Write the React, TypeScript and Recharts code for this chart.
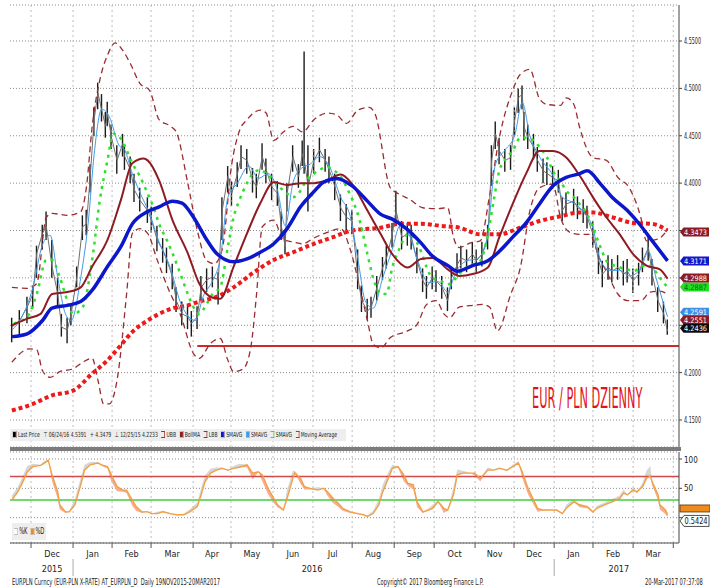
import React from "react";
import {
  ComposedChart,
  Line,
  Bar,
  Area,
  XAxis,
  YAxis,
  CartesianGrid,
  ReferenceLine,
  ReferenceDot,
} from "recharts";

const FONT = "'Liberation Sans Narrow', 'DejaVu Sans Condensed', 'Arial Narrow', 'Liberation Sans', sans-serif";

// x = session number counted from 19 Nov 2015
const monthStarts = [11, 33, 53.4, 73.8, 95.8, 115.6, 137.6, 158.5, 179, 201, 221.9, 243.3, 263.7, 284.7, 305, 326, 347];
const monthMids = [22, 43.2, 63.6, 84.8, 105.7, 126.6, 148, 168.8, 190, 211.5, 232.6, 253.5, 274.2, 294.8, 315.5, 336.5];
const monthNames = ["Dec", "Jan", "Feb", "Mar", "Apr", "May", "Jun", "Jul", "Aug", "Sep", "Oct", "Nov", "Dec", "Jan", "Feb", "Mar"];
const yearStarts = [33, 284.7];
const yearLabelT = [22, 158, 318.5];
const yearNames = ["2015", "2016", "2017"];

const priceTicks = [4.15, 4.2, 4.25, 4.3, 4.35, 4.4, 4.45, 4.5, 4.55];
const hiddenPriceLabels = ["4.25", "4.30", "4.35"];

// EURPLN daily bars (sampled)
const priceT = [
  1, 5, 9, 12, 14, 17, 19, 22, 25, 27,
  30, 32, 35, 38, 40, 42, 44, 46, 48, 50,
  51, 53, 56, 59, 60, 63, 65, 68, 72, 74,
  77, 80, 82, 85, 87, 90, 93, 95, 98, 100,
  103, 106, 109, 111, 114, 116, 119, 121, 124, 127,
  129, 132, 134, 137, 140, 142, 144, 145, 148, 151,
  153, 154, 156, 159, 162, 165, 167, 170, 173, 176,
  179, 182, 184, 187, 189, 192, 195, 197, 200, 202,
  205, 208, 210, 213, 216, 218, 221, 223, 226, 229,
  231, 234, 236, 239, 242, 244, 247, 250, 252, 254,
  256, 259, 262, 264, 266, 268, 269, 271, 274, 276,
  279, 281, 284, 287, 289, 291, 295, 297, 300, 302,
  305, 308, 310, 313, 315, 318, 321, 323, 326, 329,
  331, 334, 336, 339, 342, 344,
];
const priceClose = [
  4.248, 4.255, 4.269, 4.283, 4.326, 4.347, 4.354, 4.312, 4.283, 4.248,
  4.245, 4.262, 4.301, 4.354, 4.357, 4.407, 4.467, 4.495, 4.477, 4.46,
  4.474, 4.449, 4.424, 4.442, 4.428, 4.414, 4.393, 4.382, 4.371, 4.361,
  4.34, 4.329, 4.319, 4.301, 4.276, 4.262, 4.259, 4.252, 4.259, 4.29,
  4.298, 4.301, 4.298, 4.371, 4.407, 4.389, 4.41, 4.428, 4.424, 4.403,
  4.396, 4.428, 4.414, 4.396, 4.389, 4.354, 4.333, 4.389, 4.428, 4.407,
  4.431, 4.424, 4.396, 4.424, 4.435, 4.424, 4.414, 4.396, 4.374, 4.364,
  4.36, 4.3, 4.276, 4.265, 4.269, 4.29, 4.311, 4.321, 4.346, 4.371,
  4.343, 4.346, 4.343, 4.318, 4.297, 4.29, 4.3, 4.297, 4.29, 4.276,
  4.3, 4.314, 4.321, 4.318, 4.325, 4.318, 4.325, 4.343, 4.424, 4.452,
  4.434, 4.424, 4.427, 4.466, 4.49, 4.494, 4.459, 4.448, 4.438, 4.424,
  4.413, 4.41, 4.406, 4.402, 4.371, 4.378, 4.381, 4.374, 4.371, 4.364,
  4.346, 4.318, 4.304, 4.311, 4.307, 4.311, 4.304, 4.307, 4.297, 4.304,
  4.318, 4.332, 4.304, 4.276, 4.262, 4.2436,
];
const priceHigh = [
  4.258, 4.266, 4.28, 4.292, 4.334, 4.356, 4.37, 4.34, 4.3, 4.262,
  4.258, 4.272, 4.312, 4.366, 4.372, 4.42, 4.48, 4.506, 4.494, 4.475,
  4.486, 4.462, 4.44, 4.452, 4.44, 4.428, 4.41, 4.395, 4.385, 4.375,
  4.355, 4.342, 4.332, 4.315, 4.29, 4.275, 4.272, 4.265, 4.27, 4.302,
  4.31, 4.312, 4.306, 4.385, 4.418, 4.402, 4.422, 4.44, 4.436, 4.416,
  4.41, 4.442, 4.426, 4.41, 4.402, 4.37, 4.35, 4.4, 4.44, 4.42,
  4.445, 4.539, 4.44, 4.436, 4.448, 4.436, 4.428, 4.41, 4.388, 4.378,
  4.372, 4.33, 4.292, 4.278, 4.28, 4.302, 4.322, 4.334, 4.358, 4.392,
  4.36, 4.358, 4.356, 4.332, 4.31, 4.302, 4.312, 4.308, 4.302, 4.29,
  4.312, 4.326, 4.334, 4.33, 4.338, 4.33, 4.338, 4.356, 4.44, 4.465,
  4.448, 4.436, 4.44, 4.48, 4.5, 4.503, 4.475, 4.462, 4.452, 4.438,
  4.426, 4.422, 4.418, 4.414, 4.385, 4.39, 4.394, 4.386, 4.383, 4.376,
  4.36, 4.332, 4.318, 4.324, 4.32, 4.324, 4.318, 4.32, 4.31, 4.316,
  4.332, 4.346, 4.32, 4.29, 4.275, 4.256,
];
const priceLow = [
  4.232, 4.24, 4.252, 4.268, 4.3, 4.33, 4.34, 4.3, 4.27, 4.238,
  4.231, 4.25, 4.29, 4.34, 4.345, 4.39, 4.45, 4.478, 4.465, 4.448,
  4.46, 4.436, 4.41, 4.428, 4.414, 4.4, 4.38, 4.37, 4.358, 4.348,
  4.328, 4.316, 4.305, 4.288, 4.264, 4.25, 4.246, 4.238, 4.246, 4.276,
  4.285, 4.29, 4.272, 4.34, 4.39, 4.376, 4.396, 4.415, 4.41, 4.39,
  4.384, 4.414, 4.4, 4.382, 4.376, 4.34, 4.325, 4.37, 4.412, 4.395,
  4.418, 4.41, 4.37, 4.41, 4.422, 4.412, 4.4, 4.382, 4.36, 4.35,
  4.346, 4.288, 4.264, 4.256, 4.258, 4.276, 4.298, 4.31, 4.332, 4.356,
  4.33, 4.334, 4.33, 4.305, 4.285, 4.278, 4.288, 4.285, 4.278, 4.265,
  4.288, 4.302, 4.31, 4.306, 4.312, 4.306, 4.312, 4.33, 4.4, 4.436,
  4.42, 4.412, 4.414, 4.45, 4.474, 4.478, 4.445, 4.436, 4.425, 4.412,
  4.4, 4.398, 4.394, 4.39, 4.36, 4.366, 4.368, 4.362, 4.358, 4.352,
  4.332, 4.304, 4.29, 4.298, 4.295, 4.298, 4.292, 4.295, 4.284, 4.292,
  4.306, 4.318, 4.292, 4.264, 4.252, 4.24,
];

// SMAVG (blue, thick)
const smaT = [1, 9, 17, 22, 30, 37, 43, 51, 58, 64, 72, 78, 85, 90, 96, 103, 108, 117, 124, 131, 138, 145, 152, 159, 164, 171, 179, 187, 194, 200, 208, 215, 221, 229, 234, 242, 250, 256, 263, 270, 277, 284, 291, 298, 302, 309, 315, 323, 330, 336, 344];
const smaV = [4.238, 4.241, 4.255, 4.268, 4.271, 4.275, 4.287, 4.312, 4.333, 4.357, 4.37, 4.375, 4.381, 4.379, 4.364, 4.34, 4.326, 4.317, 4.32, 4.327, 4.336, 4.352, 4.375, 4.391, 4.401, 4.405, 4.397, 4.381, 4.367, 4.362, 4.351, 4.337, 4.323, 4.313, 4.307, 4.313, 4.318, 4.328, 4.343, 4.358, 4.378, 4.397, 4.406, 4.41, 4.413, 4.399, 4.385, 4.371, 4.355, 4.339, 4.318];

// BollMA (dark red)
const bmaT = [1, 9, 16, 22, 30, 37, 43, 51, 58, 64, 70, 72, 78, 85, 93, 99, 106, 110, 117, 124, 131, 138, 145, 152, 159, 166, 173, 179, 187, 194, 200, 208, 215, 221, 229, 235, 242, 250, 256, 263, 270, 277, 284, 291, 298, 305, 312, 319, 326, 333, 340, 344];
const bmaV = [4.25, 4.257, 4.262, 4.283, 4.285, 4.29, 4.312, 4.34, 4.382, 4.421, 4.426, 4.424, 4.403, 4.361, 4.326, 4.294, 4.279, 4.278, 4.312, 4.347, 4.379, 4.401, 4.398, 4.4, 4.4, 4.403, 4.409, 4.399, 4.371, 4.346, 4.325, 4.311, 4.32, 4.321, 4.309, 4.302, 4.304, 4.311, 4.343, 4.378, 4.41, 4.434, 4.434, 4.427, 4.408, 4.385, 4.364, 4.346, 4.325, 4.313, 4.309, 4.299];

// Moving Average (red dotted)
const maT = [1, 12, 22, 33, 43, 51, 58, 64, 72, 78, 85, 93, 99, 108, 117, 127, 138, 148, 159, 169, 179, 194, 204, 215, 225, 235, 246, 256, 267, 277, 288, 298, 305, 315, 326, 336, 344];
const maV = [4.16, 4.167, 4.176, 4.181, 4.199, 4.213, 4.229, 4.243, 4.255, 4.262, 4.268, 4.271, 4.275, 4.28, 4.29, 4.305, 4.319, 4.327, 4.336, 4.343, 4.35, 4.353, 4.357, 4.357, 4.355, 4.353, 4.346, 4.346, 4.353, 4.36, 4.365, 4.369, 4.369, 4.364, 4.358, 4.357, 4.35];

// SMAVG (green dotted)
const grT = [2, 9, 14, 19, 22, 26, 30, 33, 38, 43, 47, 51, 54, 58, 61, 64, 68, 72, 75, 78, 82, 85, 89, 93, 96, 99, 103, 106, 110, 114, 117, 120, 124, 127, 131, 134, 138, 141, 145, 148, 152, 155, 159, 162, 166, 169, 173, 176, 183, 187, 190, 194, 197, 200, 204, 208, 211, 215, 218, 221, 225, 229, 232, 235, 239, 242, 246, 250, 253, 256, 260, 263, 267, 270, 274, 277, 281, 284, 288, 291, 295, 298, 302, 305, 309, 312, 315, 319, 323, 326, 330, 333, 336, 340, 344];
const grV = [4.252, 4.259, 4.283, 4.319, 4.319, 4.301, 4.276, 4.262, 4.269, 4.319, 4.382, 4.424, 4.452, 4.447, 4.435, 4.421, 4.407, 4.389, 4.375, 4.357, 4.34, 4.326, 4.305, 4.283, 4.269, 4.262, 4.273, 4.283, 4.29, 4.333, 4.364, 4.382, 4.4, 4.41, 4.414, 4.41, 4.403, 4.396, 4.389, 4.385, 4.392, 4.403, 4.41, 4.414, 4.417, 4.414, 4.407, 4.396, 4.36, 4.325, 4.3, 4.283, 4.283, 4.311, 4.332, 4.346, 4.343, 4.328, 4.311, 4.3, 4.297, 4.293, 4.297, 4.304, 4.311, 4.314, 4.318, 4.346, 4.381, 4.413, 4.427, 4.434, 4.448, 4.448, 4.445, 4.438, 4.427, 4.413, 4.402, 4.392, 4.385, 4.378, 4.367, 4.353, 4.332, 4.318, 4.314, 4.311, 4.309, 4.307, 4.311, 4.314, 4.311, 4.3, 4.29];

// SMAVG (light blue, thin)
const lbT = [1, 6, 12, 17, 21, 25, 29, 32, 37, 41, 44, 48, 52, 57, 60, 64, 68, 73, 78, 84, 89, 93, 97, 101, 106, 110, 114, 119, 125, 130, 135, 140, 144, 148, 152, 157, 162, 167, 173, 178, 182, 186, 190, 195, 200, 204, 209, 213, 219, 224, 229, 233, 239, 244, 249, 254, 259, 264, 268, 272, 277, 284, 289, 294, 299, 305, 309, 314, 319, 324, 330, 334, 338, 342, 344];
const lbV = [4.245, 4.258, 4.29, 4.335, 4.345, 4.3, 4.262, 4.255, 4.3, 4.36, 4.43, 4.478, 4.47, 4.44, 4.435, 4.41, 4.39, 4.368, 4.338, 4.31, 4.275, 4.26, 4.255, 4.28, 4.297, 4.32, 4.385, 4.4, 4.418, 4.405, 4.41, 4.392, 4.355, 4.4, 4.415, 4.42, 4.428, 4.418, 4.385, 4.365, 4.32, 4.275, 4.268, 4.3, 4.33, 4.355, 4.345, 4.32, 4.295, 4.296, 4.285, 4.305, 4.318, 4.32, 4.335, 4.42, 4.435, 4.45, 4.485, 4.45, 4.428, 4.408, 4.385, 4.38, 4.372, 4.352, 4.318, 4.308, 4.308, 4.302, 4.31, 4.328, 4.3, 4.272, 4.259];

// Upper Bollinger band
const ubT = [1, 9, 14, 19, 22, 30, 37, 40, 43, 47, 51, 55, 59, 63, 68, 73, 78, 84, 87, 93, 98, 103, 107, 111, 116, 120, 124, 131, 134, 138, 143, 148, 153, 159, 166, 171, 176, 182, 188, 191, 199, 204, 209, 216, 223, 229, 232, 235, 241, 246, 251, 256, 263, 267, 272, 277, 281, 288, 291, 295, 298, 305, 312, 318, 324, 330, 333, 339, 344];
const ubV = [4.29, 4.289, 4.294, 4.364, 4.368, 4.366, 4.37, 4.396, 4.46, 4.509, 4.535, 4.548, 4.54, 4.526, 4.505, 4.498, 4.467, 4.46, 4.454, 4.4, 4.35, 4.318, 4.315, 4.33, 4.42, 4.455, 4.467, 4.477, 4.474, 4.445, 4.454, 4.46, 4.454, 4.467, 4.474, 4.472, 4.463, 4.477, 4.48, 4.473, 4.395, 4.388, 4.383, 4.374, 4.373, 4.374, 4.343, 4.332, 4.337, 4.339, 4.388, 4.448, 4.498, 4.515, 4.52, 4.489, 4.483, 4.482, 4.49, 4.483, 4.459, 4.427, 4.424, 4.406, 4.395, 4.364, 4.339, 4.341, 4.351];

// Lower Bollinger band
const lbbT = [1, 10, 14, 17, 21, 26, 33, 38, 43, 46, 49, 52, 56, 61, 64, 68, 72, 77, 84, 89, 96, 99, 105, 110, 114, 117, 122, 126, 129, 132, 138, 143, 148, 153, 159, 166, 173, 178, 183, 187, 190, 194, 199, 208, 213, 218, 223, 227, 230, 235, 242, 247, 251, 255, 262, 267, 272, 277, 284, 288, 293, 298, 303, 309, 312, 318, 323, 330, 335, 340, 344];
const lbbV = [4.211, 4.225, 4.224, 4.202, 4.195, 4.201, 4.204, 4.211, 4.215, 4.192, 4.167, 4.167, 4.192, 4.283, 4.347, 4.352, 4.347, 4.319, 4.283, 4.262, 4.22, 4.215, 4.231, 4.236, 4.213, 4.201, 4.204, 4.227, 4.283, 4.354, 4.361, 4.34, 4.338, 4.336, 4.342, 4.348, 4.352, 4.33, 4.29, 4.255, 4.23, 4.226, 4.237, 4.244, 4.251, 4.272, 4.276, 4.262, 4.258, 4.269, 4.271, 4.272, 4.269, 4.244, 4.283, 4.311, 4.371, 4.395, 4.399, 4.364, 4.348, 4.346, 4.346, 4.318, 4.307, 4.283, 4.276, 4.276, 4.285, 4.286, 4.283];

const supportLevel = 4.228;
const supportStart = 98;

// value tags at the right edge (drawn level, text, colours)
const tagLevels = [4.2904, 4.3484, 4.3178, 4.2999, 4.2638, 4.2555, 4.2468];
const tagTexts = ["4.2887", "4.3473", "4.3171", "4.2988", "4.2591", "4.2551", "4.2436"];
const tagFills = ["#22e01e", "#8e1b22", "#1416cc", "#8e1b22", "#3b8fe6", "#8e1b22", "#0c0c0c"];
const tagInk = ["#063", "#fff", "#fff", "#fff", "#fff", "#fff", "#fff"];

// Stochastic panel
const stT = [1, 4, 6, 9, 12, 16, 18, 20, 22, 25, 26, 29, 31, 34, 37, 39, 42, 46, 48, 51, 53, 56, 59, 61, 64, 66, 69, 72, 74, 77, 80, 84, 87, 91, 94, 98, 100, 102, 105, 108, 111, 114, 117, 120, 124, 127, 130, 132, 135, 138, 140, 143, 145, 148, 149, 152, 154, 157, 161, 164, 166, 169, 172, 174, 178, 182, 185, 187, 190, 193, 195, 198, 200, 203, 206, 208, 211, 213, 216, 219, 221, 224, 227, 229, 232, 234, 237, 241, 243, 246, 250, 253, 256, 260, 263, 266, 268, 271, 274, 276, 279, 283, 286, 289, 291, 295, 298, 302, 305, 307, 311, 315, 319, 321, 323, 326, 328, 331, 333, 335, 336, 339, 340, 343, 344];
const stD = [30, 44, 56, 78, 87, 89, 93, 98, 73, 44, 22, 10, 10, 22, 56, 81, 90, 93, 90, 87, 73, 53, 47, 47, 30, 19, 10, 10, 7, 7, 10, 7, 5, 5, 10, 19, 39, 61, 76, 81, 84, 81, 84, 86, 90, 76, 78, 73, 50, 33, 22, 13, 33, 67, 76, 67, 53, 50, 47, 50, 44, 33, 24, 16, 10, 7, 5, 2, 7, 22, 44, 67, 84, 87, 73, 59, 56, 27, 10, 13, 16, 27, 16, 13, 39, 73, 76, 76, 76, 67, 81, 81, 84, 81, 87, 93, 78, 50, 30, 16, 13, 13, 13, 7, 16, 27, 22, 19, 10, 16, 22, 27, 33, 42, 39, 47, 44, 53, 67, 71, 61, 39, 22, 13, 5];
const stK = [38, 52, 66, 88, 92, 90, 97, 98, 62, 32, 14, 8, 12, 32, 68, 90, 95, 95, 88, 84, 62, 45, 44, 42, 20, 12, 8, 12, 6, 10, 12, 6, 5, 7, 14, 26, 50, 72, 84, 85, 86, 80, 88, 92, 86, 65, 80, 62, 40, 25, 18, 12, 48, 80, 80, 58, 48, 48, 52, 50, 38, 25, 18, 12, 8, 6, 4, 4, 12, 32, 56, 78, 90, 85, 62, 55, 48, 18, 8, 16, 22, 30, 8, 12, 52, 82, 80, 76, 72, 62, 86, 82, 86, 80, 90, 96, 68, 40, 22, 10, 12, 14, 12, 6, 22, 32, 18, 16, 8, 20, 26, 32, 38, 48, 38, 52, 42, 60, 80, 88, 55, 30, 14, 6, 0.5];
const stTicks = [0, 50, 100];

const zip = (ts: number[], vs: number[]) => ts.map((t, i) => ({ t, v: vs[i] }));

const priceRows = priceT.map((t, i) => ({
  t,
  close: priceClose[i],
  hl: [priceLow[i], priceHigh[i]],
}));

const stRows = stT.map((t, i) => ({
  t,
  d: stD[i],
  up: [stD[i], Math.max(stD[i], stK[i])],
  dn: [Math.min(stD[i], stK[i]), stD[i]],
}));

const PriceTick = (p: any) => {
  const label = Number(p.payload.value).toFixed(2);
  if (hiddenPriceLabels.includes(label)) return <g />;
  return (
    <text x={p.x} y={p.y + 3} fontSize={8} fill="#222" fontFamily={FONT} textLength={17} lengthAdjust="spacingAndGlyphs">
      {Number(p.payload.value).toFixed(4)}
    </text>
  );
};

const StochTick = (p: any) => {
  if (p.payload.value === 0) return <g />;
  return (
    <text x={p.x} y={p.y + 3} fontSize={8} fill="#222" fontFamily={FONT}>
      {p.payload.value}
    </text>
  );
};

const allXTicks = Array.from(new Set([...monthStarts, ...monthMids, ...yearLabelT])).sort((a, b) => a - b);

const TimeTick = (p: any) => {
  const v = p.payload.value;
  const x = p.x;
  const y = p.y;
  const mi = monthMids.indexOf(v);
  const yi = yearLabelT.indexOf(v);
  return (
    <g fontFamily={FONT} fill="#222">
      {monthStarts.includes(v) && <line x1={x} x2={x} y1={y} y2={y + 5} stroke="#555" />}
      {yearStarts.includes(v) && <line x1={x} x2={x} y1={y + 16} y2={y + 33} stroke="#aaa" />}
      {mi >= 0 && (
        <text x={x} y={y + 14} textAnchor="middle" fontSize={9}>
          {monthNames[mi]}
        </text>
      )}
      {yi >= 0 && (
        <text x={x} y={y + 29} textAnchor="middle" fontSize={9}>
          {yearNames[yi]}
        </text>
      )}
    </g>
  );
};

const tagShape = (text: string, fill: string, ink: string) => (p: any) => (
  <g>
    <path d={`M${p.cx + 1},${p.cy} l3.5,-4.5 h25.5 v9 h-25.5 z`} fill={fill} />
    <text
      x={p.cx + 5}
      y={p.cy + 2.7}
      fontSize={7.5}
      fill={ink}
      fontFamily={FONT}
      textLength={23}
      lengthAdjust="spacingAndGlyphs"
    >
      {text}
    </text>
  </g>
);

const titleShape = (p: any) => (
  <text
    transform={`translate(${p.cx},${p.cy}) scale(0.45,1)`}
    textAnchor="middle"
    fontSize={28}
    fill="#e3121b"
    fontFamily={FONT}
  >
    EUR / PLN DZIENNY
  </text>
);

const Swatch = ({ color, dashed }: { color: string; dashed?: boolean }) => (
  <span
    style={{
      display: "inline-block",
      width: 5,
      height: 7,
      marginRight: 2,
      verticalAlign: "-1px",
      background: dashed ? "transparent" : color,
      border: dashed ? `1px solid ${color}` : "1px solid #bbb",
      borderLeft: dashed ? "none" : undefined,
      boxSizing: "border-box",
    }}
  />
);

const squeeze = { transform: "scaleX(0.72)", transformOrigin: "left center" } as const;

export default function App() {
  return (
    <div
      style={{
        position: "absolute",
        left: 0,
        top: 0,
        width: 710,
        height: 588,
        background: "#fff",
        overflow: "hidden",
        fontFamily: FONT,
      }}
    >
      <div style={{ position: "absolute", left: 0, top: 0 }}>
        <ComposedChart width={710} height={447} data={priceRows} margin={{ top: 5, right: 0, bottom: 0, left: 10 }}>
          <XAxis type="number" dataKey="t" domain={[0, 350]} hide allowDataOverflow />
          <YAxis
            orientation="right"
            width={31}
            domain={[4.1215, 4.588]}
            ticks={priceTicks}
            tick={(p: any) => <PriceTick {...p} />}
            axisLine={{ stroke: "#444" }}
            tickLine={{ stroke: "#444" }}
            tickSize={3}
            tickMargin={2}
            allowDataOverflow
          />
          <CartesianGrid vertical={false} stroke="#8c8c8c" strokeDasharray="1 2" />
          {monthStarts.map((m) => (
            <ReferenceLine key={m} x={m} stroke="#bdbdbd" strokeDasharray="2 3" />
          ))}
          <ReferenceLine
            segment={[
              { x: supportStart, y: supportLevel },
              { x: 350, y: supportLevel },
            ]}
            stroke="#cc2a2a"
            strokeWidth={2}
          />
          <Line data={zip(ubT, ubV)} dataKey="v" type="monotone" stroke="#9b2b31" strokeWidth={1.3} strokeDasharray="6 4" dot={false} isAnimationActive={false} />
          <Line data={zip(lbbT, lbbV)} dataKey="v" type="monotone" stroke="#9b2b31" strokeWidth={1.3} strokeDasharray="6 4" dot={false} isAnimationActive={false} />
          <Line data={zip(maT, maV)} dataKey="v" type="monotone" stroke="#ec1a1a" strokeWidth={4} strokeDasharray="4 3" dot={false} isAnimationActive={false} />
          <Bar dataKey="hl" barSize={1.4} fill="#1c1c1c" isAnimationActive={false} />
          <Line dataKey="close" type="linear" stroke="#6e6e6e" strokeWidth={1} dot={false} isAnimationActive={false} />
          <Line data={zip(lbT, lbV)} dataKey="v" type="monotone" stroke="#3f9be8" strokeWidth={1} dot={false} isAnimationActive={false} />
          <Line data={zip(grT, grV)} dataKey="v" type="monotone" stroke="#2ee02a" strokeWidth={2.5} strokeDasharray="3 5" dot={false} isAnimationActive={false} />
          <Line data={zip(bmaT, bmaV)} dataKey="v" type="monotone" stroke="#8e1b22" strokeWidth={2} dot={false} isAnimationActive={false} />
          <Line data={zip(smaT, smaV)} dataKey="v" type="monotone" stroke="#0c17cc" strokeWidth={3.5} dot={false} isAnimationActive={false} />
          <ReferenceDot x={302} y={4.163} r={1} shape={titleShape} />
          {tagLevels.map((lv, i) => (
            <ReferenceDot key={tagTexts[i]} x={350} y={lv} r={1} shape={tagShape(tagTexts[i], tagFills[i], tagInk[i])} />
          ))}
        </ComposedChart>
      </div>

      <div
        style={{
          position: "absolute",
          left: 10,
          top: 429,
          height: 12,
          width: 336,
          background: "#eeeeee",
          overflow: "hidden",
        }}
      >
        <div
          style={{
            ...squeeze,
            width: 460,
            paddingLeft: 4,
            fontSize: 7,
            lineHeight: "12px",
            color: "#222",
            whiteSpace: "nowrap",
            display: "flex",
            gap: 5,
          }}
        >
          <span><Swatch color="#000" />Last Price</span>
          <span>⊤ 06/24/16 4.5391</span>
          <span>+ 4.3479</span>
          <span>⊥ 12/25/15 4.2233</span>
          <span><Swatch color="#9b2b31" dashed />UBB</span>
          <span><Swatch color="#8e1b22" />BollMA</span>
          <span><Swatch color="#9b2b31" dashed />LBB</span>
          <span><Swatch color="#0c17cc" />SMAVG</span>
          <span><Swatch color="#3f9be8" />SMAVG</span>
          <span><Swatch color="#2ee02a" dashed />SMAVG</span>
          <span><Swatch color="#ec1a1a" dashed />Moving Average</span>
        </div>
      </div>

      <div style={{ position: "absolute", left: 10, top: 447, width: 671, height: 4, background: "#7c7c7c" }} />

      <div style={{ position: "absolute", left: 0, top: 451 }}>
        <ComposedChart width={710} height={137} data={stRows} margin={{ top: 1, right: 0, bottom: 0, left: 10 }}>
          <XAxis
            type="number"
            dataKey="t"
            domain={[0, 350]}
            ticks={allXTicks}
            interval={0}
            tick={(p: any) => <TimeTick {...p} />}
            tickLine={false}
            tickSize={0}
            tickMargin={0}
            height={45}
            axisLine={{ stroke: "#555" }}
            allowDataOverflow
          />
          <YAxis
            orientation="right"
            width={31}
            domain={[-43.1, 111.9]}
            ticks={stTicks}
            tick={(p: any) => <StochTick {...p} />}
            axisLine={{ stroke: "#444" }}
            tickLine={{ stroke: "#444" }}
            tickSize={3}
            tickMargin={2}
            allowDataOverflow
          />
          <CartesianGrid vertical={false} stroke="#8c8c8c" strokeDasharray="1 2" />
          {monthStarts.map((m) => (
            <ReferenceLine key={m} x={m} stroke="#bdbdbd" strokeDasharray="2 3" />
          ))}
          <ReferenceLine y={70} stroke="#d24a4a" strokeWidth={1.5} />
          <ReferenceLine y={30} stroke="#3fcf3f" strokeWidth={1.5} />
          <Area dataKey="up" type="linear" fill="#d6d6d6" fillOpacity={1} stroke="none" isAnimationActive={false} />
          <Area dataKey="dn" type="linear" fill="#f8ad92" fillOpacity={1} stroke="none" isAnimationActive={false} />
          <Line dataKey="d" type="linear" stroke="#f2a044" strokeWidth={1.4} dot={false} isAnimationActive={false} />
          <ReferenceDot x={350} y={15.7} r={1} shape={(p: any) => <rect x={p.cx + 1} y={p.cy - 3.5} width={30} height={7} fill="#f08a1c" stroke="#5a3000" strokeWidth={0.8} />} />
          <ReferenceDot
            x={350}
            y={-5.5}
            r={1}
            shape={(p: any) => (
              <g>
                <path d={`M${p.cx + 1},${p.cy} l4,-5.5 h25 v11 h-25 z`} fill="#fff" stroke="#222" strokeWidth={0.8} />
                <text
                  x={p.cx + 5.5}
                  y={p.cy + 3}
                  fontSize={8}
                  fill="#111"
                  fontFamily={FONT}
                  textLength={23}
                  lengthAdjust="spacingAndGlyphs"
                >
                  0.5424
                </text>
              </g>
            )}
          />
        </ComposedChart>
      </div>

      <div
        style={{
          position: "absolute",
          left: 12,
          top: 523,
          height: 17,
          width: 34,
          background: "#eeeeee",
          overflow: "hidden",
        }}
      >
        <div
          style={{
            ...squeeze,
            width: 48,
            paddingLeft: 3,
            fontSize: 8,
            lineHeight: "17px",
            color: "#222",
            whiteSpace: "nowrap",
            display: "flex",
            gap: 4,
          }}
        >
          <span><Swatch color="#fff" />%K</span>
          <span><Swatch color="#f08a1c" />%D</span>
        </div>
      </div>

      <div style={{ ...squeeze, position: "absolute", left: 12, top: 578, fontSize: 8, color: "#222", whiteSpace: "nowrap" }}>
        EURPLN Curncy (EUR-PLN X-RATE) AT_EURPLN_D&nbsp; Daily 19NOV2015-20MAR2017
      </div>
      <div style={{ ...squeeze, position: "absolute", left: 377, top: 578, fontSize: 8, color: "#222", whiteSpace: "nowrap" }}>
        Copyright© 2017 Bloomberg Finance L.P.
      </div>
      <div style={{ ...squeeze, position: "absolute", left: 645, top: 578, fontSize: 8, color: "#222", whiteSpace: "nowrap" }}>
        20-Mar-2017 07:37:08
      </div>
    </div>
  );
}
